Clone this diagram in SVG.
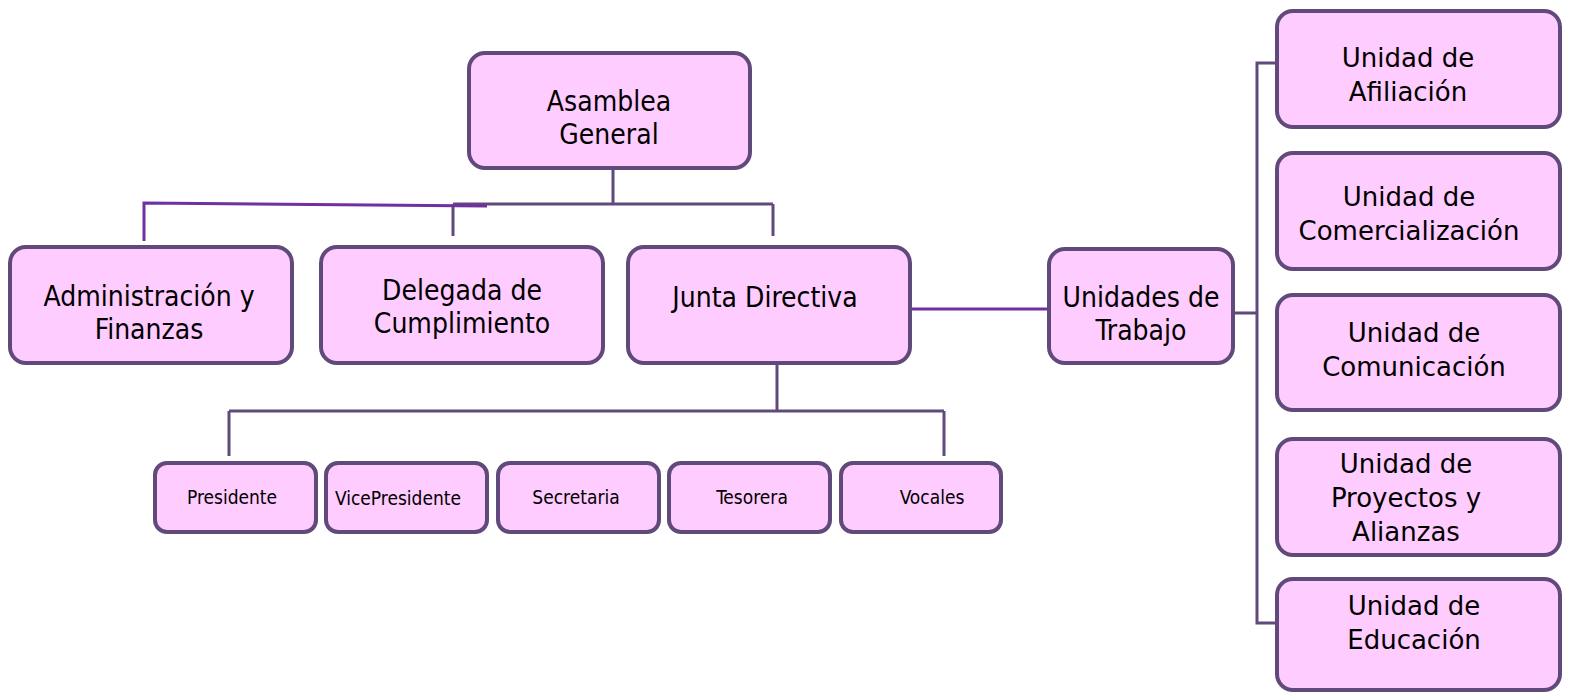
<svg xmlns="http://www.w3.org/2000/svg" width="1572" height="694" viewBox="0 0 1572 694">
<style>
.box{fill:#ffccff;stroke:#604a7b;stroke-width:4}
.t{font-family:"DejaVu Sans Condensed","DejaVu Sans",sans-serif;font-stretch:condensed;font-size:28px;fill:#000;text-anchor:middle}
.r{font-family:"DejaVu Sans",sans-serif;font-size:26px;fill:#000;text-anchor:middle}
.s{font-family:"DejaVu Sans Condensed","DejaVu Sans",sans-serif;font-stretch:condensed;font-size:19px;fill:#000;text-anchor:middle}
.c{fill:none;stroke:#604a7b;stroke-width:3}
.p{fill:none;stroke:#7030a0;stroke-width:3}
</style>
<g id="connectors">
<path class="c" d="M613 168V204M453 204H773M453 204V236M773 204V236"/>
<path class="p" d="M144 241V203L487 206"/>
<path class="p" d="M910 309H1049"/>
<path class="c" d="M777 363V411M229 411H944M229 411V456M944 411V456"/>
<path class="c" d="M1233 313H1257M1285 63H1257V623H1285"/>
</g>
<g id="asamblea"><rect class="box" x="469" y="53" width="281" height="115" rx="16"/><text class="t" x="609" y="111">Asamblea</text><text class="t" x="609" y="144">General</text></g>
<g id="admin"><rect class="box" x="10" y="247" width="282" height="116" rx="16"/><text class="t" x="149" y="306">Administración y</text><text class="t" x="149" y="339">Finanzas</text></g>
<g id="delegada"><rect class="box" x="321" y="247" width="282" height="116" rx="16"/><text class="t" x="462" y="300">Delegada de</text><text class="t" x="462" y="333">Cumplimiento</text></g>
<g id="junta"><rect class="box" x="628" y="247" width="282" height="116" rx="16"/><text class="t" x="765" y="307">Junta Directiva</text></g>
<g id="unidades"><rect class="box" x="1049" y="249" width="184" height="114" rx="16"/><text class="t" x="1141" y="307">Unidades de</text><text class="t" x="1141" y="340">Trabajo</text></g>
<g id="afiliacion"><rect class="box" x="1277" y="11" width="283" height="116" rx="16"/><text class="r" x="1408" y="67">Unidad de</text><text class="r" x="1408" y="101">Afiliación</text></g>
<g id="comercializacion"><rect class="box" x="1277" y="153" width="283" height="116" rx="16"/><text class="r" x="1409" y="206">Unidad de</text><text class="r" x="1409" y="240">Comercialización</text></g>
<g id="comunicacion"><rect class="box" x="1277" y="295" width="283" height="115" rx="16"/><text class="r" x="1414" y="342">Unidad de</text><text class="r" x="1414" y="376">Comunicación</text></g>
<g id="proyectos"><rect class="box" x="1277" y="439" width="283" height="116" rx="16"/><text class="r" x="1406" y="473">Unidad de</text><text class="r" x="1406" y="507">Proyectos y</text><text class="r" x="1406" y="541">Alianzas</text></g>
<g id="educacion"><rect class="box" x="1277" y="579" width="283" height="111" rx="16"/><text class="r" x="1414" y="615">Unidad de</text><text class="r" x="1414" y="649">Educación</text></g>
<g id="presidente"><rect class="box" x="155" y="463" width="161" height="69" rx="12"/><text class="s" x="232" y="504">Presidente</text></g>
<g id="vicepresidente"><rect class="box" x="326" y="463" width="161" height="69" rx="12"/><text class="s" x="398" y="505">VicePresidente</text></g>
<g id="secretaria"><rect class="box" x="498" y="463" width="161" height="69" rx="12"/><text class="s" x="576" y="504">Secretaria</text></g>
<g id="tesorera"><rect class="box" x="669" y="463" width="161" height="69" rx="12"/><text class="s" x="752" y="504">Tesorera</text></g>
<g id="vocales"><rect class="box" x="841" y="463" width="160" height="69" rx="12"/><text class="s" x="932" y="504">Vocales</text></g>
</svg>
